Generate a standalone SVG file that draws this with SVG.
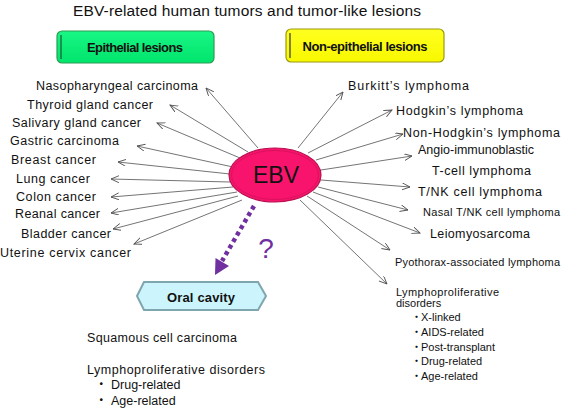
<svg xmlns="http://www.w3.org/2000/svg" width="565" height="410" viewBox="0 0 565 410">
<style>
text{font-family:"Liberation Sans","Noto Sans CJK JP",sans-serif;fill:#111}
.t{font-size:12.5px}
.s{font-size:11px}
.b{font-weight:bold;font-size:13px}
.c{stroke:#505050;stroke-width:0.8;fill:none;marker-end:url(#ah)}
</style>
<defs>
<marker id="ah" markerWidth="9" markerHeight="8" refX="8" refY="3.5" orient="auto" markerUnits="userSpaceOnUse">
<path d="M0,0 L8,3.5 L0,7" fill="none" stroke="#505050" stroke-width="0.9"/>
</marker>
<linearGradient id="gg" x1="0" y1="0" x2="0" y2="1"><stop offset="0" stop-color="#19F684"/><stop offset="1" stop-color="#00E46C"/></linearGradient>
<linearGradient id="yg" x1="0" y1="0" x2="0" y2="1"><stop offset="0" stop-color="#FFFF20"/><stop offset="1" stop-color="#F8F800"/></linearGradient>
</defs>

<text x="73" y="16" font-size="15.5" textLength="348">EBV-related human tumors and tumor-like lesions</text>

<g id="epithelial">
<rect x="57" y="31" width="157" height="32" rx="5" fill="url(#gg)" stroke="#2E9C55" stroke-width="1.2"/>
<line x1="61" y1="35" x2="61" y2="59" stroke="#1E5530" stroke-width="1.2"/>
<text class="b" x="135" y="52" text-anchor="middle" textLength="96">Epithelial lesions</text>
</g>

<g id="nonepithelial">
<rect x="286" y="29" width="158" height="33" rx="5" fill="url(#yg)" stroke="#9A9A10" stroke-width="1.2"/>
<line x1="290" y1="33" x2="290" y2="58" stroke="#333" stroke-width="1.2"/>
<text class="b" x="365" y="51" text-anchor="middle" textLength="125">Non-epithelial lesions</text>
</g>

<g id="connectors">
<line class="c" x1="258" y1="148" x2="206" y2="88"/>
<line class="c" x1="248" y1="152" x2="170" y2="105"/>
<line class="c" x1="240" y1="158" x2="157" y2="123"/>
<line class="c" x1="233" y1="167" x2="137" y2="146"/>
<line class="c" x1="230" y1="174" x2="118" y2="162"/>
<line class="c" x1="230" y1="182" x2="111" y2="179"/>
<line class="c" x1="233" y1="187" x2="111" y2="197"/>
<line class="c" x1="237" y1="192" x2="111" y2="213"/>
<line class="c" x1="238" y1="196" x2="113" y2="229"/>
<line class="c" x1="242" y1="200" x2="134" y2="244"/>
<line class="c" x1="298" y1="148" x2="343" y2="92"/>
<line class="c" x1="308" y1="153" x2="392" y2="110"/>
<line class="c" x1="316" y1="160" x2="403" y2="134"/>
<line class="c" x1="321" y1="170" x2="412" y2="156"/>
<line class="c" x1="321" y1="180" x2="410" y2="187"/>
<line class="c" x1="318" y1="187" x2="408" y2="210"/>
<line class="c" x1="313" y1="192" x2="420" y2="233"/>
<line class="c" x1="307" y1="196" x2="390" y2="250"/>
<line class="c" x1="300" y1="200" x2="387" y2="284"/>
<line x1="254" y1="206" x2="222" y2="261" stroke="#7030A0" stroke-width="4.5" stroke-dasharray="4 3.5"/>
<polygon points="215,275 215.5,258 229,266" fill="#7030A0"/>
</g>

<g id="ebv">
<ellipse cx="275" cy="175" rx="46" ry="27" fill="#F8146C" stroke="#B81050" stroke-width="1.2"/>
<ellipse cx="275" cy="175" rx="43.5" ry="24.5" fill="none" stroke="#D01058" stroke-width="0.8"/>
<text x="276" y="183" font-size="23" text-anchor="middle" fill="#1a0008">EBV</text>
</g>

<text x="266" y="258" font-size="28" text-anchor="middle" style="fill:#7030A0">?</text>

<g id="oral">
<polygon points="137,296 144,282 258,282 266,296 258,310 144,310" fill="#CCF4FC" stroke="#7FA6AE" stroke-width="2"/>
<text class="b" x="201" y="302" text-anchor="middle" textLength="68">Oral cavity</text>
</g>

<g id="left-labels">
<text class="t" x="36" y="90" textLength="162">Nasopharyngeal carcinoma</text>
<text class="t" x="27" y="109" textLength="126">Thyroid gland cancer</text>
<text class="t" x="12" y="127" textLength="129">Salivary gland cancer</text>
<text class="t" x="10" y="145" textLength="109">Gastric carcinoma</text>
<text class="t" x="11" y="164" textLength="85">Breast cancer</text>
<text class="t" x="16" y="183" textLength="74">Lung cancer</text>
<text class="t" x="16" y="201" textLength="80">Colon cancer</text>
<text class="t" x="15" y="218" textLength="85">Reanal cancer</text>
<text class="t" x="21" y="238" textLength="90">Bladder cancer</text>
<text class="t" x="0" y="257" textLength="131">Uterine cervix cancer</text>
</g>

<g id="right-labels">
<text class="t" x="348" y="90" textLength="121">Burkitt’s lymphoma</text>
<text class="t" x="396" y="115" textLength="127">Hodgkin’s lymphoma</text>
<text class="t" x="403" y="137" textLength="157">Non-Hodgkin’s lymphoma</text>
<text class="t" x="418" y="154" textLength="116">Angio-immunoblastic</text>
<text class="t" x="432" y="175" textLength="99">T-cell lymphoma</text>
<text class="t" x="418" y="196" textLength="124">T/NK cell lymphoma</text>
<text class="s" x="423" y="216" textLength="137">Nasal T/NK cell lymphoma</text>
<text class="t" x="430" y="238" textLength="100">Leiomyosarcoma</text>
<text class="s" x="395" y="266" textLength="165">Pyothorax-associated lymphoma</text>
<text class="s" x="396" y="296" textLength="103">Lymphoproliferative</text>
<text class="s" x="396" y="307">disorders</text>
<text class="s"><tspan x="411" y="321">・</tspan><tspan x="421" y="321">X-linked</tspan></text>
<text class="s"><tspan x="411" y="336">・</tspan><tspan x="421" y="336">AIDS-related</tspan></text>
<text class="s"><tspan x="411" y="351">・</tspan><tspan x="421" y="351">Post-transplant</tspan></text>
<text class="s"><tspan x="411" y="365">・</tspan><tspan x="421" y="365">Drug-related</tspan></text>
<text class="s"><tspan x="411" y="380">・</tspan><tspan x="421" y="380">Age-related</tspan></text>
</g>

<g id="oral-labels">
<text class="t" x="87" y="342" textLength="150">Squamous cell carcinoma</text>
<text class="t" x="87" y="374" textLength="178">Lymphoproliferative disorders</text>
<text class="t"><tspan x="95" y="389">・</tspan><tspan x="111" y="389">Drug-related</tspan></text>
<text class="t"><tspan x="95" y="405">・</tspan><tspan x="111" y="405">Age-related</tspan></text>
</g>
</svg>
